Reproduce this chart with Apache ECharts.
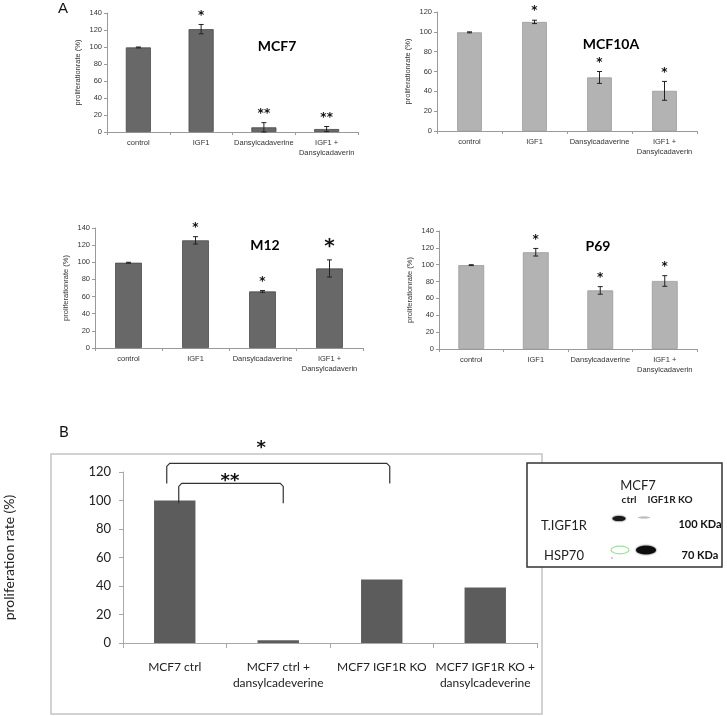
<!DOCTYPE html>
<html>
<head>
<meta charset="utf-8">
<script src="https://cdn.jsdelivr.net/npm/echarts@6/dist/echarts.min.js"></script>
<style>
html,body{margin:0;padding:0;background:#fff;}
#chart{width:727px;height:716px;}
</style>
</head>
<body>
<div id="chart"></div>
<script>
// ---------- data ----------
const categoriesA = ['control', 'IGF1', 'Dansylcadaverine', 'IGF1 +\nDansylcadaverin'];

const mcf7Values = [99.5, 121, 5.5, 3.5];
const mcf7Errors = [0.5, 5.5, 5.5, 3];
const mcf7Stars  = ['', '*', '**', '**'];
const mcf7Ticks  = [0, 20, 40, 60, 80, 100, 120, 140];

const mcf10aValues = [99.5, 110, 54, 40.5];
const mcf10aErrors = [0.5, 1.7, 6, 9.5];
const mcf10aStars  = ['', '*', '*', '*'];
const mcf10aTicks  = [0, 20, 40, 60, 80, 100, 120];

const m12Values = [99.5, 125.6, 66, 92.8];
const m12Errors = [0.5, 4.3, 1, 10];
const m12Stars  = ['', '*', '*', '*'];
const m12Ticks  = [0, 20, 40, 60, 80, 100, 120, 140];

const p69Values = [99.5, 114.8, 69.5, 80.7];
const p69Errors = [0.5, 4.5, 4.5, 6.3];
const p69Stars  = ['', '*', '*', '*'];
const p69Ticks  = [0, 20, 40, 60, 80, 100, 120, 140];

const categoriesB = ['MCF7 ctrl', 'MCF7 ctrl +\ndansylcadeverine', 'MCF7 IGF1R KO', 'MCF7 IGF1R KO +\ndansylcadeverine'];
const valuesB = [100, 2, 44.5, 39];
const ticksB  = [0, 20, 40, 60, 80, 100, 120];

// significance brackets in panel B: [fromCategory, toCategory, topValue, legEndValue]
const bracketFrom   = [0, 0];
const bracketTo     = [2, 1];
const bracketTop    = [126, 112];
const bracketLegEnd = [112, 98];
const bracketLabel  = ['*', '**'];

// ---------- styles / layout ----------
const fontA = 'Liberation Sans';
const fontB = 'Lato';
const panelsA = [
  {name:'MCF7',   values:mcf7Values,   errors:mcf7Errors,   stars:mcf7Stars,   ticks:mcf7Ticks,
   grid:{left:107, right:369, top:13, bottom:584}, color:'#686868', border:'#4a4a4a', barWidth:'40%', bigStar:[]},
  {name:'MCF10A', values:mcf10aValues, errors:mcf10aErrors, stars:mcf10aStars, ticks:mcf10aTicks,
   grid:{left:437, right:30, top:12, bottom:585}, color:'#b3b3b3', border:'#9a9a9a', barWidth:'38%', bigStar:[]},
  {name:'M12',    values:m12Values,    errors:m12Errors,    stars:m12Stars,    ticks:m12Ticks,
   grid:{left:95, right:364, top:228, bottom:368}, color:'#686868', border:'#4a4a4a', barWidth:'40%', bigStar:[3]},
  {name:'P69',    values:p69Values,    errors:p69Errors,    stars:p69Stars,    ticks:p69Ticks,
   grid:{left:439, right:30, top:231, bottom:367}, color:'#b3b3b3', border:'#9a9a9a', barWidth:'40%', bigStar:[]}
];
const gridB = {left:123, right:190, top:472, bottom:73};
const bracketLegShift = [[-8, 8], [4, 5]];
const bracketLabelShift = [-17, -1];

const grids = [], xAxes = [], yAxes = [], series = [];

panelsA.forEach((p, gi) => {
  grids.push(Object.assign({outerBoundsMode:'none', containLabel:false}, p.grid));
  xAxes.push({
    type:'category', gridIndex:gi, data:categoriesA,
    axisLine:{lineStyle:{color:'#9a9a9a', width:1}},
    axisTick:{show:true, length:3, lineStyle:{color:'#9a9a9a'}},
    axisLabel:{fontFamily:fontA, fontSize:7.5, color:'#333', margin:6, lineHeight:10, interval:0}
  });
  yAxes.push({
    type:'value', gridIndex:gi, min:p.ticks[0], max:p.ticks[p.ticks.length-1], interval:p.ticks[1]-p.ticks[0],
    name:'proliferationrate (%)', nameLocation:'middle', nameGap:25,
    nameTextStyle:{fontFamily:fontA, fontSize:7.5, color:'#333'},
    axisLine:{show:true, lineStyle:{color:'#9a9a9a'}},
    axisTick:{show:true, length:3, lineStyle:{color:'#9a9a9a'}},
    axisLabel:{fontFamily:fontA, fontSize:7.5, color:'#333', margin:5},
    splitLine:{show:false}
  });
  series.push({
    type:'bar', xAxisIndex:gi, yAxisIndex:gi, data:p.values, barWidth:p.barWidth,
    itemStyle:{color:p.color, borderColor:p.border, borderWidth:0.8}, silent:true
  });
  series.push({
    type:'custom', xAxisIndex:gi, yAxisIndex:gi, z:5, silent:true,
    data:p.values.map((v, i) => [i, v - p.errors[i], v + p.errors[i]]),
    renderItem:(params, api) => {
      const x = api.value(0);
      const lo = api.coord([x, api.value(1)]);
      const hi = api.coord([x, api.value(2)]);
      const hw = 2.5, st = {stroke:'#222', lineWidth:1};
      return {type:'group', children:[
        {type:'line', shape:{x1:lo[0], y1:lo[1], x2:hi[0], y2:hi[1]}, style:st},
        {type:'line', shape:{x1:lo[0]-hw, y1:lo[1], x2:lo[0]+hw, y2:lo[1]}, style:st},
        {type:'line', shape:{x1:hi[0]-hw, y1:hi[1], x2:hi[0]+hw, y2:hi[1]}, style:st}
      ]};
    }
  });
  series.push({
    type:'custom', xAxisIndex:gi, yAxisIndex:gi, z:6, silent:true,
    data:p.values.map((v, i) => [i, v + p.errors[i]]),
    renderItem:(params, api) => {
      const i = params.dataIndex;
      const s = p.stars[i];
      if (!s) return null;
      const big = p.bigStar.indexOf(i) >= 0;
      const pt = api.coord([api.value(0), api.value(1)]);
      const fs = big ? 20 : 12;
      return {type:'text', style:{text:s, x:pt[0], y:pt[1] - 3, align:'center', verticalAlign:'bottom',
        font:'bold ' + fs + 'px "DejaVu Sans"', fill:'#111', letterSpacing:0}};
    }
  });
});

// panel B
const gB = grids.length;
grids.push(Object.assign({outerBoundsMode:'none', containLabel:false}, gridB));
xAxes.push({
  type:'category', gridIndex:gB, data:categoriesB,
  axisLine:{lineStyle:{color:'#a8a8a8', width:1}},
  axisTick:{show:true, length:5, lineStyle:{color:'#a8a8a8'}},
  axisLabel:{fontFamily:fontB, fontSize:12, color:'#222', margin:16, lineHeight:16, interval:0}
});
yAxes.push({
  type:'value', gridIndex:gB, min:ticksB[0], max:ticksB[ticksB.length-1], interval:ticksB[1]-ticksB[0],
  name:'proliferation rate (%)', nameLocation:'middle', nameGap:107,
  nameTextStyle:{fontFamily:fontB, fontSize:14, color:'#222'},
  axisLine:{show:true, lineStyle:{color:'#a8a8a8'}},
  axisTick:{show:true, length:4, lineStyle:{color:'#a8a8a8'}},
  axisLabel:{fontFamily:fontB, fontSize:13, color:'#222', margin:12},
  splitLine:{show:false}
});
series.push({
  type:'bar', xAxisIndex:gB, yAxisIndex:gB, data:valuesB, barWidth:'40%',
  itemStyle:{color:'#5c5c5c'}, silent:true
});
series.push({
  type:'custom', xAxisIndex:gB, yAxisIndex:gB, z:6, silent:true, clip:false,
  data:bracketFrom.map((f, i) => [f, bracketTo[i], bracketTop[i], bracketLegEnd[i]]),
  renderItem:(params, api) => {
    const i = params.dataIndex;
    const a = api.coord([api.value(0), api.value(2)]);
    const b = api.coord([api.value(1), api.value(2)]);
    const e = api.coord([api.value(0), api.value(3)]);
    const x1 = a[0] + bracketLegShift[i][0], x2 = b[0] + bracketLegShift[i][1];
    const yt = a[1], yb = e[1];
    return {type:'group', children:[
      {type:'polyline', shape:{points:[[x1, yb], [x1, yt + 3], [x1 + 3, yt], [x2 - 3, yt], [x2, yt + 3], [x2, yb]]},
       style:{stroke:'#333', lineWidth:1.2, fill:null}},
      {type:'text', style:{text:bracketLabel[i], x:(x1 + x2) / 2 + bracketLabelShift[i], y:yt - (i === 0 ? 6 : -7),
        align:'center', verticalAlign:'bottom', font:'bold 18px "DejaVu Sans"', fill:'#111'}}
    ]};
  }
});

// ---------- annotations ----------
const graphic = [
  {type:'text', x:58, y:1, style:{text:'A', font:'15px "Liberation Sans"', fill:'#111'}},
  {type:'text', x:277, y:46, style:{text:'MCF7', font:'bold 14px Lato', fill:'#000', align:'center', verticalAlign:'middle'}},
  {type:'text', x:611, y:44, style:{text:'MCF10A', font:'bold 14px Lato', fill:'#000', align:'center', verticalAlign:'middle'}},
  {type:'text', x:265, y:245, style:{text:'M12', font:'bold 14px Lato', fill:'#000', align:'center', verticalAlign:'middle'}},
  {type:'text', x:598, y:246, style:{text:'P69', font:'bold 14px Lato', fill:'#000', align:'center', verticalAlign:'middle'}},
  {type:'text', x:59, y:425, style:{text:'B', font:'15px Lato', fill:'#111'}},
  {type:'rect', shape:{x:51, y:454, width:491, height:260}, style:{fill:null, stroke:'#c4c4c4', lineWidth:1.5}},
  // inset blot
  {type:'rect', z:20, shape:{x:527, y:463, width:195, height:104}, style:{fill:'#fff', stroke:'#333', lineWidth:1.5}},
  {type:'text', z:21, x:638, y:486, style:{text:'MCF7', font:'13px Lato', fill:'#222', align:'center', verticalAlign:'middle'}},
  {type:'text', z:21, x:629, y:500, style:{text:'ctrl', font:'bold 10px Lato', fill:'#222', align:'center', verticalAlign:'middle'}},
  {type:'text', z:21, x:670, y:500, style:{text:'IGF1R KO', font:'bold 10px Lato', fill:'#222', align:'center', verticalAlign:'middle'}},
  {type:'text', z:21, x:564, y:526, style:{text:'T.IGF1R', font:'13px Lato', fill:'#222', align:'center', verticalAlign:'middle'}},
  {type:'text', z:21, x:564, y:556, style:{text:'HSP70', font:'13px Lato', fill:'#222', align:'center', verticalAlign:'middle'}},
  {type:'text', z:21, x:700, y:524, style:{text:'100 KDa', font:'bold 11px Lato', fill:'#111', align:'center', verticalAlign:'middle'}},
  {type:'text', z:21, x:700, y:555, style:{text:'70 KDa', font:'bold 11px Lato', fill:'#111', align:'center', verticalAlign:'middle'}},
  {type:'ellipse', z:21, shape:{cx:619, cy:518.5, rx:6.5, ry:2.6}, style:{fill:'#1a1a1a', shadowBlur:2, shadowColor:'#000'}},
  {type:'ellipse', z:21, shape:{cx:644, cy:517.5, rx:6, ry:0.8}, style:{fill:'#bbb', shadowBlur:1, shadowColor:'#999'}},
  {type:'ellipse', z:21, shape:{cx:646, cy:550, rx:10, ry:4.3}, style:{fill:'#0d0d0d', shadowBlur:2, shadowColor:'#000'}},
  {type:'ellipse', z:21, shape:{cx:620, cy:550, rx:9, ry:3.8}, style:{fill:null, stroke:'#9de09d', lineWidth:1.2}},
  {type:'circle', z:21, shape:{cx:612, cy:558, r:0.9}, style:{fill:'#c9a8d8'}}
];

const chart = echarts.init(document.getElementById('chart'), null, {renderer:'canvas'});
chart.setOption({
  animation:false,
  backgroundColor:'#fff',
  grid:grids, xAxis:xAxes, yAxis:yAxes, series:series, graphic:graphic
});
</script>
</body>
</html>
